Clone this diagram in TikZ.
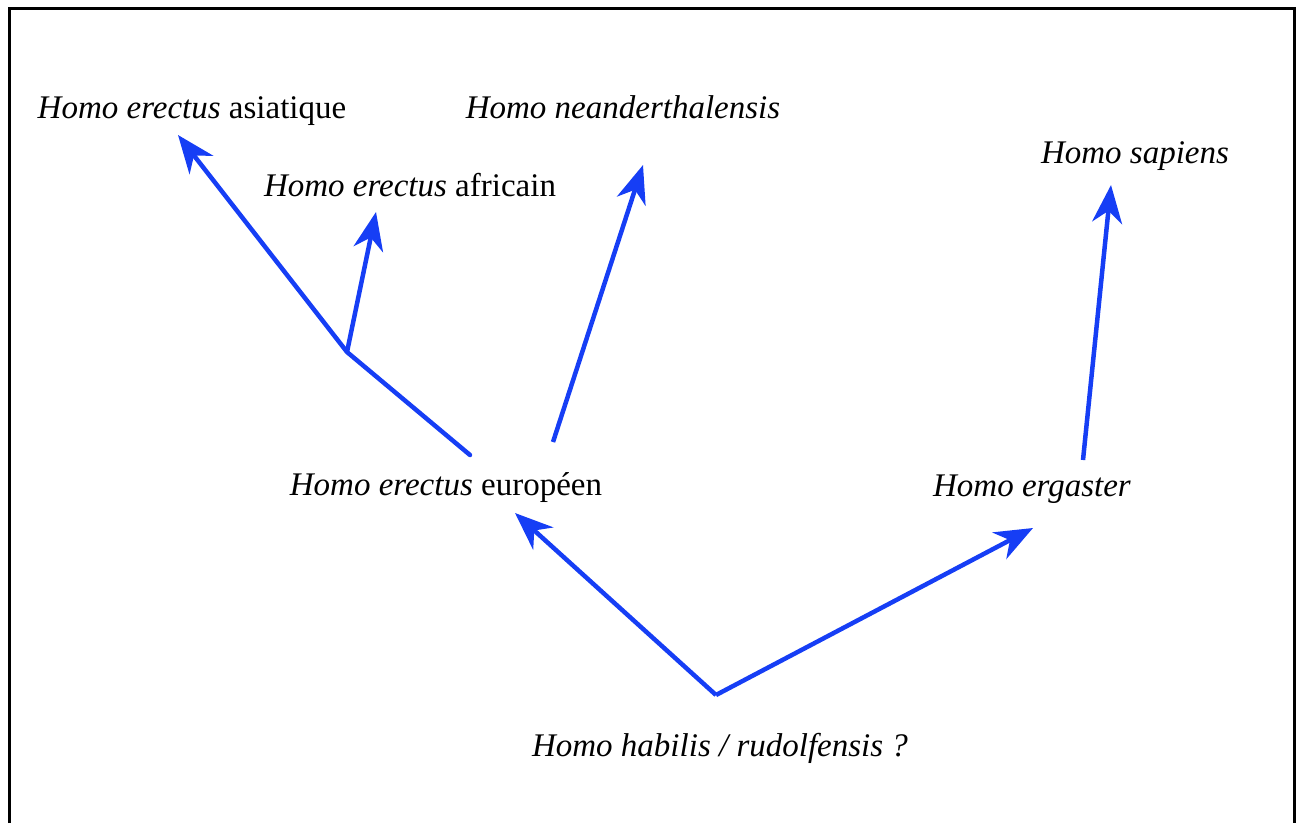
\documentclass[tikz,border=0pt]{standalone}
\usepackage{fontspec}
\setmainfont{Liberation Serif}
\usetikzlibrary{arrows.meta}
\definecolor{arrowblue}{RGB}{22,62,245}
\begin{document}
\begin{tikzpicture}[x=1pt,y=-1pt,
  lbl/.style={inner sep=0pt,anchor=base,font=\fontsize{33}{38}\selectfont},
  branch/.style={arrowblue,line width=4.5pt},
  evo/.style={branch,-{Stealth[length=38pt,width=30pt,inset=12pt]}}]
\useasboundingbox (0,0) rectangle (1301,823);
\draw[line width=3.5pt] (9.5,823) -- (9.5,8.5) -- (1294.5,8.5) -- (1294.5,823);
\node[lbl] (asi) at (192,118) {\textit{Homo erectus} asiatique};
\node[lbl] (afr) at (410,196) {\textit{Homo erectus} africain};
\node[lbl] (nea) at (623,118) {\textit{Homo neanderthalensis}};
\node[lbl] (sap) at (1135,163) {\textit{Homo sapiens}};
\node[lbl] (eur) at (446,495) {\textit{Homo erectus} européen};
\node[lbl] (erg) at (1032,496) {\textit{Homo ergaster}};
\node[lbl] (hab) at (720,756) {\textit{Homo habilis / rudolfensis ?}};
\coordinate (fork) at (347,352);
\coordinate (eurtop) at (470,455);
\coordinate (eurtop2) at (553,442);
\coordinate (asitip) at (178,135);
\coordinate (afrtip) at (376,212);
\coordinate (neatip) at (643,165);
\coordinate (ergtop) at (1083,460);
\coordinate (saptip) at (1111,185);
\coordinate (root) at (716,695);
\coordinate (eurtip) at (515,513);
\coordinate (ergtip) at (1033,528);
\draw[branch,line cap=round] (eurtop) -- (fork);
\draw[evo] (fork) -- (asitip);
\draw[evo] (fork) -- (afrtip);
\draw[evo] (eurtop2) -- (neatip);
\draw[evo] (ergtop) -- (saptip);
\draw[evo] (root) -- (eurtip);
\draw[evo] (root) -- (ergtip);
\end{tikzpicture}
\end{document}
